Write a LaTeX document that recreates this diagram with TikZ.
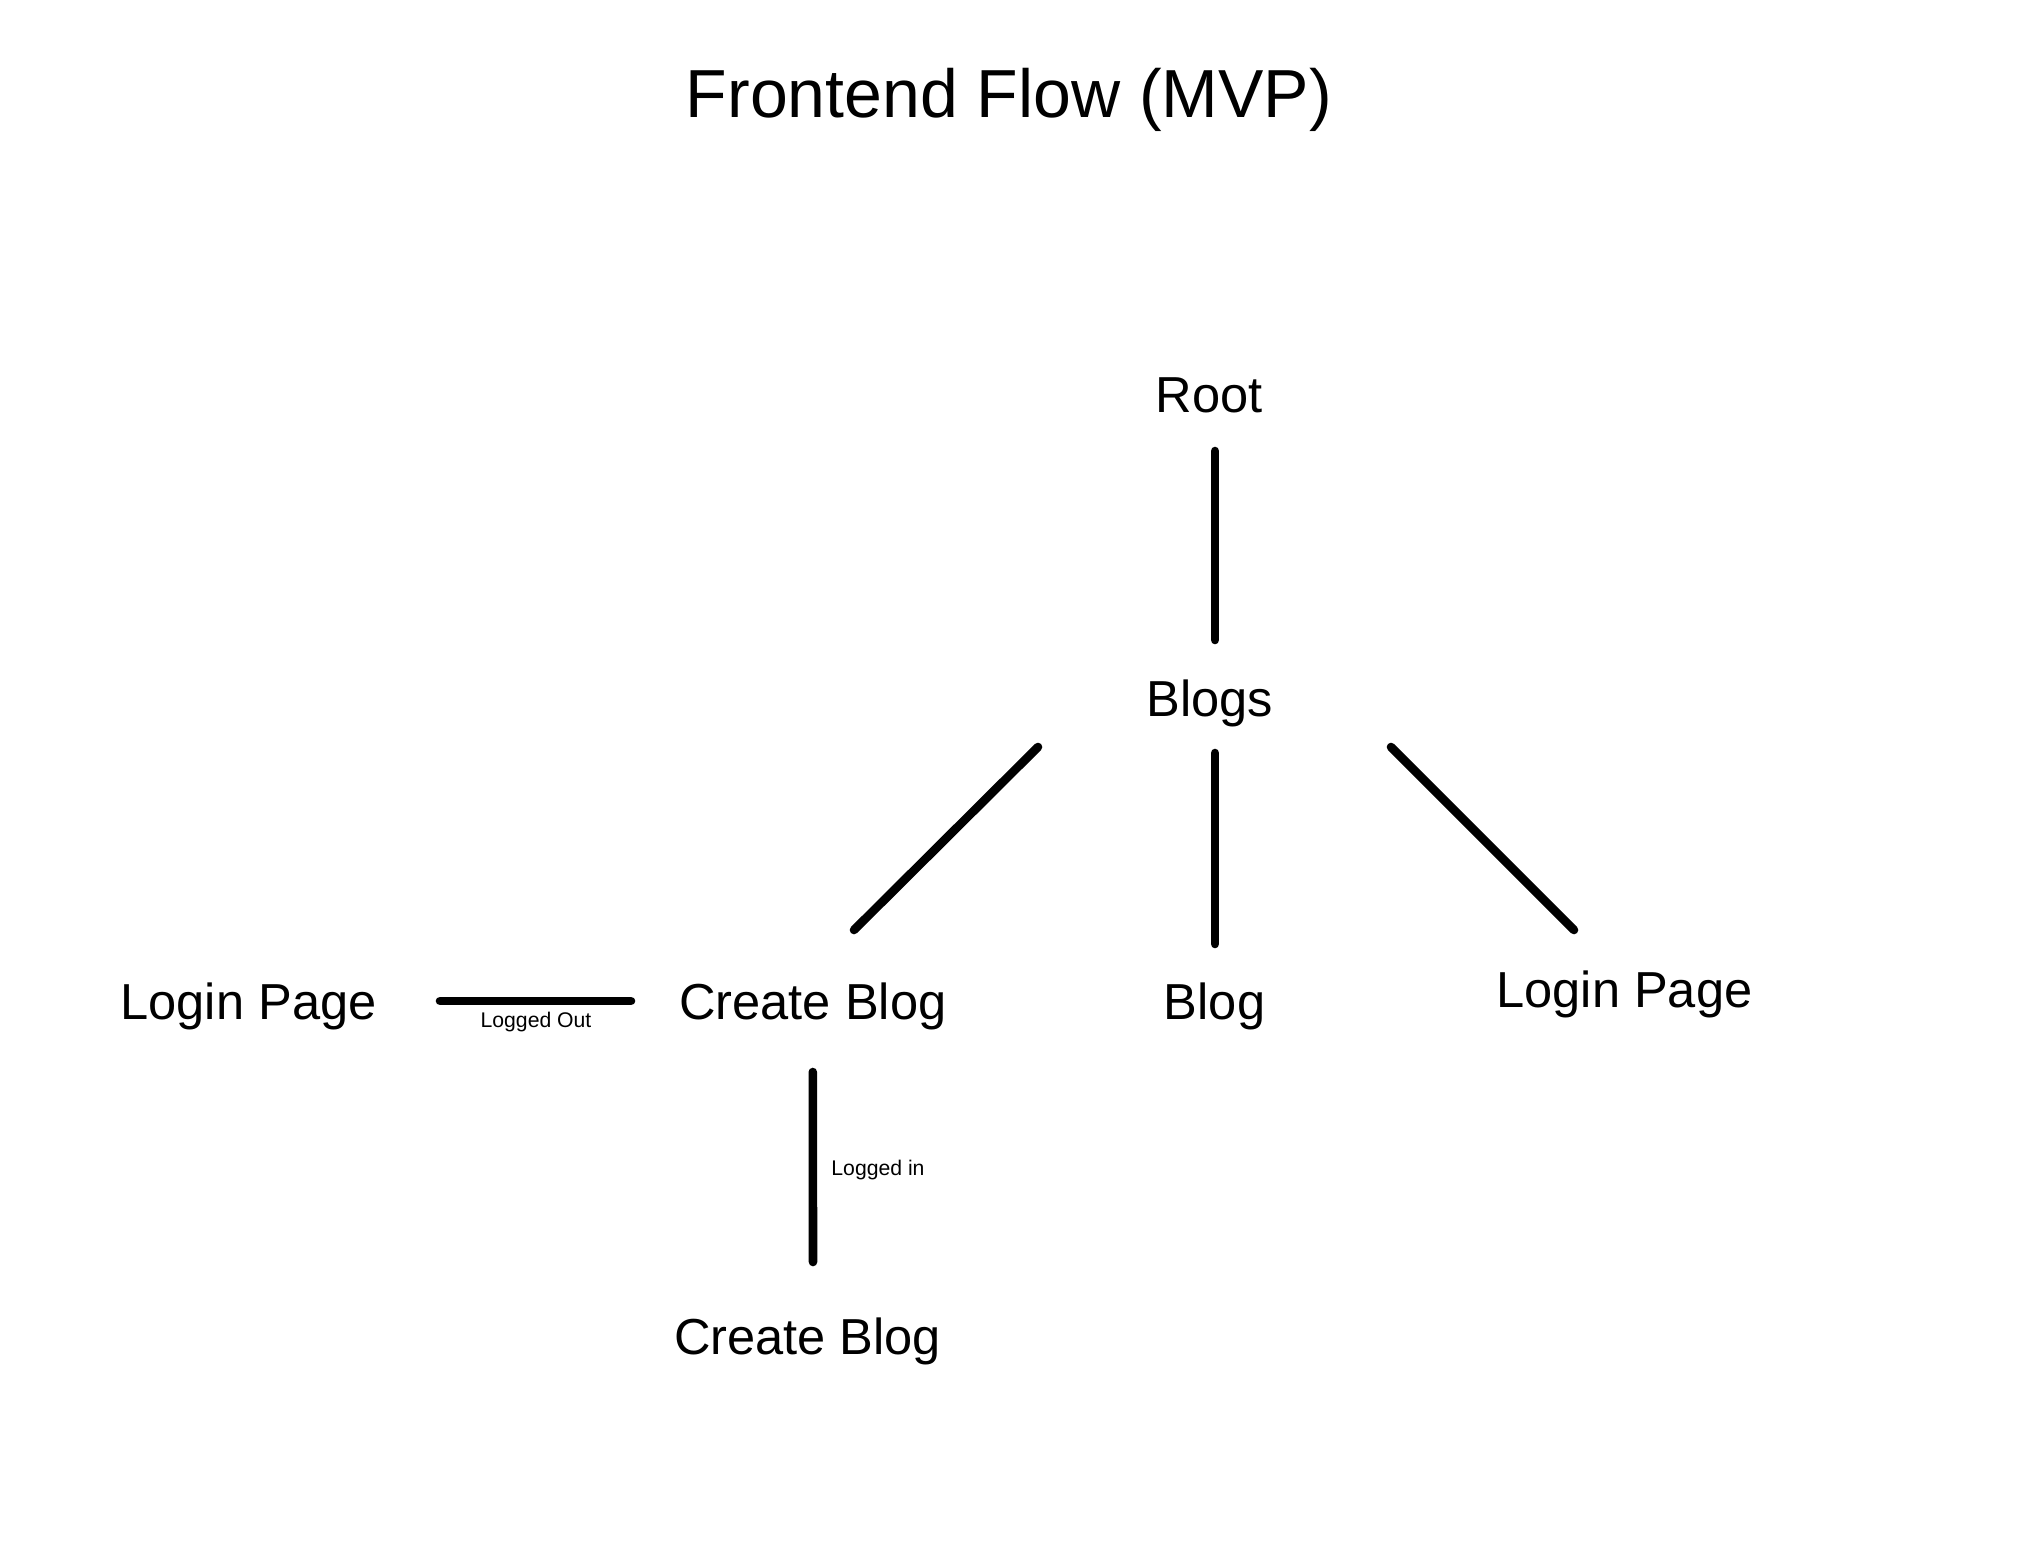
\documentclass[tikz,border=0pt]{standalone}
\usepackage{fontspec}
\setmainfont{Liberation Sans}
\begin{document}
\begin{tikzpicture}
  [x=1pt, y=-1pt,
   page/.style={inner sep=0pt, text height=18pt, text depth=0pt, font=\fontsize{25.3}{30}\selectfont},
   note/.style={inner sep=0pt, text height=7.6pt, text depth=0pt, font=\fontsize{10.6}{13}\selectfont},
   link/.style={line width=4.3pt, line cap=round}]
  \useasboundingbox[fill=white] (0,0) rectangle (1010,771.5);
  \node[inner sep=0pt, text height=24.5pt, text depth=0pt, font=\fontsize{34}{40}\selectfont] (title) at (504.5,46.4) {Frontend Flow (MVP)};
  \node[page] (root) at (604.5,197) {Root};
  \node[page] (blogs) at (605,349) {Blogs};
  \node[page] (loginleft) at (124.3,500.5) {Login Page};
  \node[page] (create) at (406.4,500.5) {Create Blog};
  \node[page] (blog) at (607.3,500.5) {Blog};
  \node[page] (loginright) at (812.2,494.6) {Login Page};
  \node[page] (createin) at (403.8,668) {Create Blog};
  \draw[link] ([shift={(3,28.5)}]root.center) -- ([shift={(2.5,-29)}]blogs.center);
  \draw[link] ([shift={(2.5,27.5)}]blogs.center) -- ([shift={(0.2,-28.5)}]blog.center);
  \draw[link] ([shift={(-86,24.5)}]blogs.center) -- ([shift={(20.6,-35.5)}]create.center);
  \draw[link] ([shift={(90.5,24.5)}]blogs.center) -- ([shift={(-25.2,-29.6)}]loginright.center);
  \draw[link] ([shift={(95.7,0)}]loginleft.center) -- ([shift={(-90.9,0)}]create.center);
  \draw[link] ([shift={(0,35.5)}]create.center) -- ([shift={(2.7,-37)}]createin.center);
  \node[note] (loggedout) at (268,510) {Logged Out};
  \node[note] (loggedin) at (439,584) {Logged in};
\end{tikzpicture}
\end{document}
